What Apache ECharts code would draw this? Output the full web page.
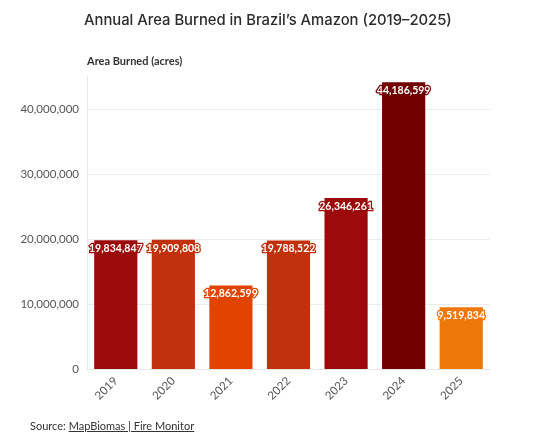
<!DOCTYPE html>
<html lang="en">

<head>
    <meta charset="UTF-8">
    <title>Annual Area Burned in Brazil's Amazon</title>
    <style type="text/css">
        body {
            margin: 0;
            background: #fff;
        }

        #main {
            width: 559px;
            height: 442px;
        }

        .source {
            position: absolute;
            left: 30px;
            top: 419px;
            font-family: Lato, sans-serif;
            font-size: 11px;
            color: #333;
        }

        .source a {
            color: #333;
            text-decoration: underline;
        }
    </style>
</head>

<body>
    <div id="main"></div>
    <div class="source">Source: <a href="#">MapBiomas | Fire Monitor</a></div>
    <script src="https://cdn.jsdelivr.net/npm/echarts@6/dist/echarts.min.js"></script>
    <script type="text/javascript">
        // 年份與燒毀面積
        var years = ['2019', '2020', '2021', '2022', '2023', '2024', '2025'];
        var acres = [19834847, 19909808, 12862599, 19788522, 26346261, 44186599, 9519834];
        var barColors = ['#9c0a0b', '#c0310c', '#e04400', '#c0310c', '#9c0a0b', '#720000', '#ee780a'];

        function fmt(v) {
            return v.toLocaleString('en-US');
        }

        var myChart = echarts.init(document.getElementById('main'));
        var option = {
            animation: false,
            title: {
                text: 'Annual Area Burned in Brazil\u2019s Amazon (2019\u20132025)',
                left: 79,
                top: 8,
                textStyle: {
                    fontFamily: 'Inter',
                    fontSize: 14.8,
                    fontWeight: 500,
                    color: '#2b2b2b'
                }
            },
            grid: {
                left: 87,
                right: 69,
                top: 77,
                bottom: 73
            },
            xAxis: {
                type: 'category',
                data: years,
                axisLine: { lineStyle: { color: '#e6e6e6' } },
                axisTick: { alignWithLabel: true, length: 5, lineStyle: { color: '#e6e6e6' } },
                axisLabel: {
                    rotate: 45,
                    fontFamily: 'Lato',
                    fontSize: 11.5,
                    color: '#555',
                    margin: 10
                }
            },
            yAxis: {
                type: 'value',
                min: 0,
                max: 45000000,
                interval: 10000000,
                name: 'Area Burned (acres)',
                nameLocation: 'end',
                nameGap: 10,
                nameTextStyle: {
                    align: 'left',
                    fontFamily: 'Lato',
                    fontSize: 11,
                    fontWeight: 'bold',
                    color: '#333'
                },
                axisLine: { show: true, lineStyle: { color: '#e6e6e6' } },
                axisTick: { show: false },
                axisLabel: {
                    showMaxLabel: false,
                    fontFamily: 'Lato',
                    fontSize: 11.5,
                    color: '#555',
                    formatter: function (v) { return fmt(v); }
                },
                splitLine: { showMaxLine: false, lineStyle: { color: '#ececec' } }
            },
            series: [
                {
                    type: 'bar',
                    barWidth: '75%',
                    data: acres.map(function (v, i) {
                        return {
                            value: v,
                            itemStyle: { color: barColors[i] },
                            label: { textBorderColor: barColors[i] }
                        };
                    }),
                    label: {
                        show: true,
                        position: 'insideTop',
                        distance: 3,
                        fontFamily: 'Lato',
                        fontSize: 10.5,
                        fontWeight: 'bold',
                        color: '#fff',
                        textBorderWidth: 2.5,
                        formatter: function (p) { return fmt(p.value); }
                    }
                }
            ]
        };
        myChart.setOption(option);
    </script>
</body>

</html>
